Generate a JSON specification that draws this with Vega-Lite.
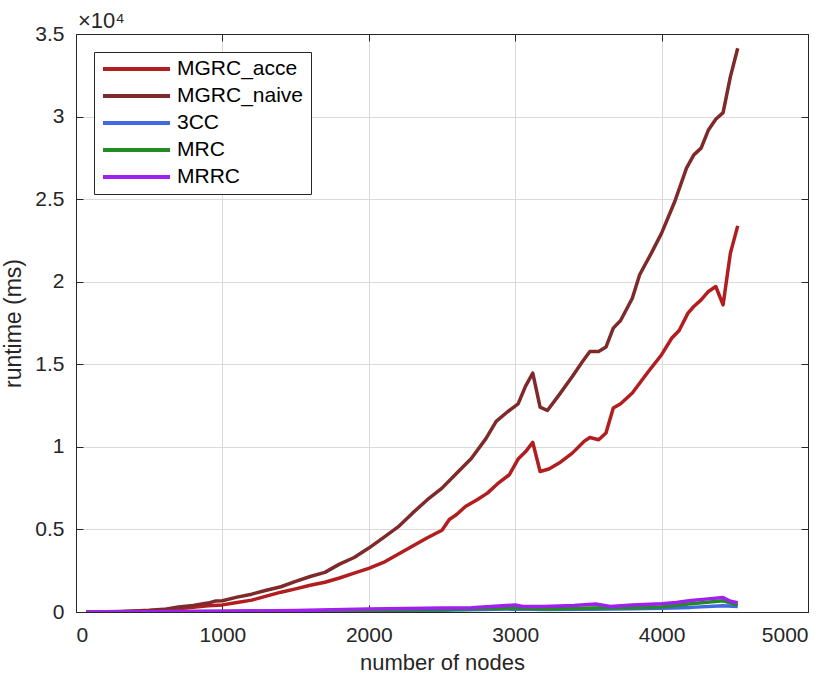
{
  "$schema": "https://vega.github.io/schema/vega-lite/v6.json",
  "autosize": {"type": "none"},
  "padding": {"left": 76, "top": 34, "right": 27, "bottom": 71},
  "width": 732,
  "height": 578,
  "background": "white",
  "title": {"text": "×10⁴", "anchor": "start", "frame": "group", "orient": "top", "offset": -10, "dx": 2, "font": "Liberation Sans", "fontSize": 22, "fontWeight": "normal", "color": "#262626"},
  "config": {
    "font": "Liberation Sans",
    "view": {"stroke": "#262626", "strokeWidth": 1},
    "axis": {"domainColor": "#262626", "tickColor": "#262626", "labelColor": "#262626", "titleColor": "#262626", "labelFont": "Liberation Sans", "titleFont": "Liberation Sans", "labelFontSize": 21, "titleFontSize": 22, "titleFontWeight": "normal", "gridColor": "#DADADA", "gridWidth": 1, "tickSize": -7, "tickWidth": 1}
  },
  "datasets": {
    "d": [
      {"s": "MGRC_acce", "x": 70, "y": 0}, {"s": "MGRC_acce", "x": 200, "y": 5}, {"s": "MGRC_acce", "x": 300, "y": 15}, {"s": "MGRC_acce", "x": 400, "y": 40}, {"s": "MGRC_acce", "x": 500, "y": 70}, {"s": "MGRC_acce", "x": 600, "y": 110}, {"s": "MGRC_acce", "x": 700, "y": 200}, {"s": "MGRC_acce", "x": 800, "y": 280}, {"s": "MGRC_acce", "x": 900, "y": 380}, {"s": "MGRC_acce", "x": 1000, "y": 430}, {"s": "MGRC_acce", "x": 1100, "y": 580}, {"s": "MGRC_acce", "x": 1200, "y": 720}, {"s": "MGRC_acce", "x": 1300, "y": 960}, {"s": "MGRC_acce", "x": 1400, "y": 1200}, {"s": "MGRC_acce", "x": 1500, "y": 1400}, {"s": "MGRC_acce", "x": 1600, "y": 1620}, {"s": "MGRC_acce", "x": 1700, "y": 1800}, {"s": "MGRC_acce", "x": 1800, "y": 2060}, {"s": "MGRC_acce", "x": 1900, "y": 2350}, {"s": "MGRC_acce", "x": 2000, "y": 2640}, {"s": "MGRC_acce", "x": 2100, "y": 3000}, {"s": "MGRC_acce", "x": 2200, "y": 3500}, {"s": "MGRC_acce", "x": 2300, "y": 4000}, {"s": "MGRC_acce", "x": 2400, "y": 4500}, {"s": "MGRC_acce", "x": 2500, "y": 4950}, {"s": "MGRC_acce", "x": 2550, "y": 5600}, {"s": "MGRC_acce", "x": 2600, "y": 5900}, {"s": "MGRC_acce", "x": 2660, "y": 6390}, {"s": "MGRC_acce", "x": 2740, "y": 6800}, {"s": "MGRC_acce", "x": 2810, "y": 7200}, {"s": "MGRC_acce", "x": 2880, "y": 7770}, {"s": "MGRC_acce", "x": 2960, "y": 8310}, {"s": "MGRC_acce", "x": 3020, "y": 9260}, {"s": "MGRC_acce", "x": 3070, "y": 9700}, {"s": "MGRC_acce", "x": 3120, "y": 10270}, {"s": "MGRC_acce", "x": 3170, "y": 8510}, {"s": "MGRC_acce", "x": 3230, "y": 8660}, {"s": "MGRC_acce", "x": 3300, "y": 9020}, {"s": "MGRC_acce", "x": 3390, "y": 9620}, {"s": "MGRC_acce", "x": 3470, "y": 10330}, {"s": "MGRC_acce", "x": 3510, "y": 10570}, {"s": "MGRC_acce", "x": 3570, "y": 10430}, {"s": "MGRC_acce", "x": 3620, "y": 10840}, {"s": "MGRC_acce", "x": 3670, "y": 12350}, {"s": "MGRC_acce", "x": 3720, "y": 12610}, {"s": "MGRC_acce", "x": 3800, "y": 13260}, {"s": "MGRC_acce", "x": 3910, "y": 14560}, {"s": "MGRC_acce", "x": 4000, "y": 15580}, {"s": "MGRC_acce", "x": 4070, "y": 16590}, {"s": "MGRC_acce", "x": 4120, "y": 17050}, {"s": "MGRC_acce", "x": 4180, "y": 18100}, {"s": "MGRC_acce", "x": 4220, "y": 18500}, {"s": "MGRC_acce", "x": 4270, "y": 18900}, {"s": "MGRC_acce", "x": 4320, "y": 19410}, {"s": "MGRC_acce", "x": 4370, "y": 19710}, {"s": "MGRC_acce", "x": 4420, "y": 18600}, {"s": "MGRC_acce", "x": 4470, "y": 21730}, {"s": "MGRC_acce", "x": 4520, "y": 23380},

      {"s": "MGRC_naive", "x": 70, "y": 0}, {"s": "MGRC_naive", "x": 200, "y": 10}, {"s": "MGRC_naive", "x": 300, "y": 30}, {"s": "MGRC_naive", "x": 400, "y": 60}, {"s": "MGRC_naive", "x": 500, "y": 100}, {"s": "MGRC_naive", "x": 600, "y": 160}, {"s": "MGRC_naive", "x": 700, "y": 300}, {"s": "MGRC_naive", "x": 800, "y": 400}, {"s": "MGRC_naive", "x": 900, "y": 540}, {"s": "MGRC_naive", "x": 950, "y": 660}, {"s": "MGRC_naive", "x": 1000, "y": 680}, {"s": "MGRC_naive", "x": 1100, "y": 900}, {"s": "MGRC_naive", "x": 1200, "y": 1080}, {"s": "MGRC_naive", "x": 1300, "y": 1320}, {"s": "MGRC_naive", "x": 1400, "y": 1530}, {"s": "MGRC_naive", "x": 1500, "y": 1850}, {"s": "MGRC_naive", "x": 1600, "y": 2150}, {"s": "MGRC_naive", "x": 1700, "y": 2400}, {"s": "MGRC_naive", "x": 1800, "y": 2900}, {"s": "MGRC_naive", "x": 1900, "y": 3300}, {"s": "MGRC_naive", "x": 2000, "y": 3870}, {"s": "MGRC_naive", "x": 2100, "y": 4500}, {"s": "MGRC_naive", "x": 2200, "y": 5150}, {"s": "MGRC_naive", "x": 2300, "y": 6000}, {"s": "MGRC_naive", "x": 2400, "y": 6800}, {"s": "MGRC_naive", "x": 2500, "y": 7500}, {"s": "MGRC_naive", "x": 2600, "y": 8400}, {"s": "MGRC_naive", "x": 2700, "y": 9300}, {"s": "MGRC_naive", "x": 2800, "y": 10500}, {"s": "MGRC_naive", "x": 2870, "y": 11540}, {"s": "MGRC_naive", "x": 2950, "y": 12140}, {"s": "MGRC_naive", "x": 3020, "y": 12600}, {"s": "MGRC_naive", "x": 3070, "y": 13660}, {"s": "MGRC_naive", "x": 3120, "y": 14470}, {"s": "MGRC_naive", "x": 3170, "y": 12410}, {"s": "MGRC_naive", "x": 3220, "y": 12200}, {"s": "MGRC_naive", "x": 3300, "y": 13150}, {"s": "MGRC_naive", "x": 3390, "y": 14260}, {"s": "MGRC_naive", "x": 3460, "y": 15170}, {"s": "MGRC_naive", "x": 3510, "y": 15780}, {"s": "MGRC_naive", "x": 3570, "y": 15780}, {"s": "MGRC_naive", "x": 3620, "y": 16040}, {"s": "MGRC_naive", "x": 3670, "y": 17190}, {"s": "MGRC_naive", "x": 3720, "y": 17650}, {"s": "MGRC_naive", "x": 3800, "y": 19000}, {"s": "MGRC_naive", "x": 3850, "y": 20420}, {"s": "MGRC_naive", "x": 3930, "y": 21730}, {"s": "MGRC_naive", "x": 4000, "y": 22940}, {"s": "MGRC_naive", "x": 4090, "y": 24860}, {"s": "MGRC_naive", "x": 4170, "y": 26880}, {"s": "MGRC_naive", "x": 4220, "y": 27680}, {"s": "MGRC_naive", "x": 4270, "y": 28090}, {"s": "MGRC_naive", "x": 4320, "y": 29190}, {"s": "MGRC_naive", "x": 4370, "y": 29840}, {"s": "MGRC_naive", "x": 4420, "y": 30240}, {"s": "MGRC_naive", "x": 4470, "y": 32420}, {"s": "MGRC_naive", "x": 4520, "y": 34140},

      {"s": "3CC", "x": 70, "y": 0}, {"s": "3CC", "x": 500, "y": 10}, {"s": "3CC", "x": 1000, "y": 25}, {"s": "3CC", "x": 1500, "y": 50}, {"s": "3CC", "x": 2000, "y": 80}, {"s": "3CC", "x": 2500, "y": 110}, {"s": "3CC", "x": 3000, "y": 180}, {"s": "3CC", "x": 3200, "y": 150}, {"s": "3CC", "x": 3500, "y": 160}, {"s": "3CC", "x": 3800, "y": 200}, {"s": "3CC", "x": 4000, "y": 230}, {"s": "3CC", "x": 4200, "y": 280}, {"s": "3CC", "x": 4420, "y": 380}, {"s": "3CC", "x": 4520, "y": 340},

      {"s": "MRC", "x": 70, "y": 0}, {"s": "MRC", "x": 500, "y": 15}, {"s": "MRC", "x": 1000, "y": 35}, {"s": "MRC", "x": 1500, "y": 60}, {"s": "MRC", "x": 2000, "y": 110}, {"s": "MRC", "x": 2500, "y": 150}, {"s": "MRC", "x": 3000, "y": 250}, {"s": "MRC", "x": 3200, "y": 180}, {"s": "MRC", "x": 3600, "y": 260}, {"s": "MRC", "x": 3800, "y": 250}, {"s": "MRC", "x": 4000, "y": 320}, {"s": "MRC", "x": 4200, "y": 500}, {"s": "MRC", "x": 4420, "y": 680}, {"s": "MRC", "x": 4520, "y": 420},

      {"s": "MRRC", "x": 70, "y": 0}, {"s": "MRRC", "x": 500, "y": 20}, {"s": "MRRC", "x": 1000, "y": 50}, {"s": "MRRC", "x": 1500, "y": 90}, {"s": "MRRC", "x": 2000, "y": 180}, {"s": "MRRC", "x": 2500, "y": 240}, {"s": "MRRC", "x": 2700, "y": 260}, {"s": "MRRC", "x": 3000, "y": 420}, {"s": "MRRC", "x": 3050, "y": 330}, {"s": "MRRC", "x": 3200, "y": 340}, {"s": "MRRC", "x": 3400, "y": 400}, {"s": "MRRC", "x": 3550, "y": 480}, {"s": "MRRC", "x": 3650, "y": 340}, {"s": "MRRC", "x": 3800, "y": 420}, {"s": "MRRC", "x": 4000, "y": 500}, {"s": "MRRC", "x": 4100, "y": 580}, {"s": "MRRC", "x": 4200, "y": 700}, {"s": "MRRC", "x": 4300, "y": 780}, {"s": "MRRC", "x": 4420, "y": 880}, {"s": "MRRC", "x": 4470, "y": 650}, {"s": "MRRC", "x": 4520, "y": 560}
    ]
  },
  "data": {"name": "d"},
  "resolve": {"axis": {"x": "independent", "y": "independent"}},
  "layer": [
    {
      "mark": {"type": "line", "strokeWidth": 3.5, "strokeJoin": "round", "clip": true},
      "encoding": {
        "x": {"field": "x", "type": "quantitative", "scale": {"domain": [0, 5000], "nice": false},
              "axis": {"title": "number of nodes", "values": [0, 1000, 2000, 3000, 4000, 5000], "grid": true, "labelPadding": 19, "titlePadding": 7, "format": "d"}},
        "y": {"field": "y", "type": "quantitative", "scale": {"domain": [0, 35000], "nice": false},
              "axis": {"title": "runtime (ms)", "titleFontSize": 23, "values": [0, 5000, 10000, 15000, 20000, 25000, 30000, 35000], "labelExpr": "format(datum.value/10000, '')", "grid": true, "labelPadding": 19, "titlePadding": 9}},
        "color": {"field": "s", "type": "nominal",
                  "scale": {"domain": ["MGRC_acce", "MGRC_naive", "3CC", "MRC", "MRRC"], "range": ["#B21D1F", "#7E2A2A", "#4169E1", "#228B22", "#A020F0"]},
                  "legend": {"title": null, "orient": "none", "legendX": 18, "legendY": 18, "symbolType": "stroke", "symbolSize": 4489, "symbolStrokeWidth": 4, "clipHeight": 20, "labelFontSize": 21, "labelFont": "Liberation Sans", "labelColor": "#000000", "strokeColor": "#262626", "fillColor": "white", "padding": 7, "rowPadding": 6, "labelOffset": 5}},
        "order": {"field": "x", "type": "quantitative"}
      }
    },
    {
      "mark": {"type": "line", "strokeOpacity": 0},
      "encoding": {
        "x": {"field": "x", "type": "quantitative", "axis": {"orient": "top", "labels": false, "title": null, "grid": false, "values": [0, 1000, 2000, 3000, 4000, 5000]}},
        "y": {"field": "y", "type": "quantitative", "axis": {"orient": "right", "labels": false, "title": null, "grid": false, "values": [0, 5000, 10000, 15000, 20000, 25000, 30000, 35000]}}
      }
    }
  ]
}
